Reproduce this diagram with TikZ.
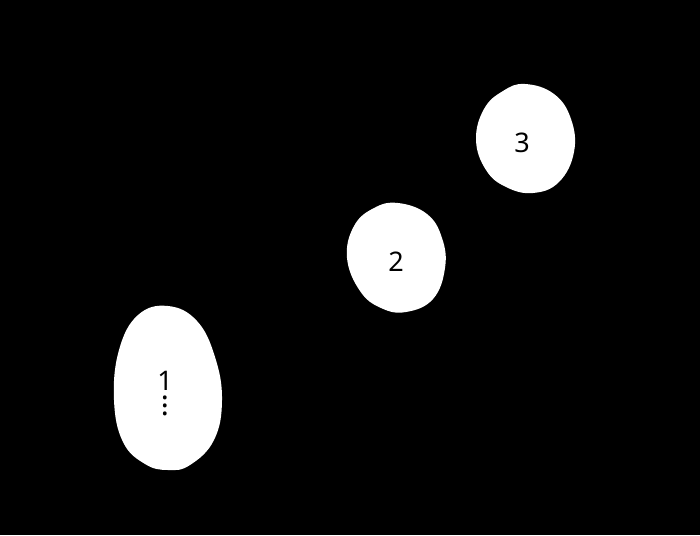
\documentclass[tikz,border=0pt]{standalone}
\usepackage{fontspec}
\setmainfont{Noto Sans}
\newcommand{\myvdots}{\vbox{\baselineskip=8pt\lineskiplimit=-20pt\lineskip=0pt\hbox{.}\hbox{.}\hbox{.}}}
\begin{document}
\begin{tikzpicture}[x=1pt,y=-1pt,
  blob/.style={fill=white,draw=none},
  lbl/.style={font=\fontsize{27}{30}\selectfont,text=black,inner sep=0pt}]
\fill[black] (0,0) rectangle (700,535);
\useasboundingbox (0,0) rectangle (700,535);
% blob 1
\fill[blob] plot[smooth cycle,tension=0.7] coordinates {(168,306) (197,321) (215,357) (222,400) (214,440) (190,465) (168,470) (145,464) (123,442) (114,400) (119,350) (138,315)};
% blob 2
\fill[blob] plot[smooth cycle,tension=0.7] coordinates {(398,203) (427,214) (442,238) (445,268) (433,299) (406,312) (381,308) (360,291) (347,258) (354,226) (374,208)};
% blob 3
\fill[blob] plot[smooth cycle,tension=0.7] coordinates {(525,84) (554,94) (571,119) (574,152) (559,182) (533,193) (506,187) (486,170) (476,140) (484,109) (503,91)};
\node[lbl] (n1) at (165,381) {1};
\node[inner sep=0pt,text=black,font=\fontsize{30}{36}\selectfont] (d1) at (165,406) {\myvdots};
\node[lbl] (n2) at (396,262) {2};
\node[lbl] (n3) at (522,143) {3};
\end{tikzpicture}
\end{document}
